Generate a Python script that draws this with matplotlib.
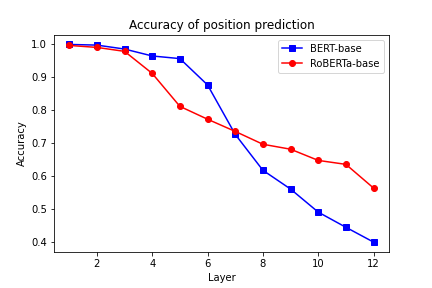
import matplotlib
matplotlib.use("Agg")
import matplotlib.pyplot as plt

layers = [1, 2, 3, 4, 5, 6, 7, 8, 9, 10, 11, 12]
bert_acc = [1.0, 0.998, 0.986, 0.965, 0.957, 0.877, 0.727, 0.618, 0.561, 0.491, 0.445, 0.400]
roberta_acc = [0.997, 0.991, 0.979, 0.912, 0.812, 0.773, 0.736, 0.697, 0.682, 0.648, 0.636, 0.564]

fig, ax = plt.subplots(figsize=(6, 4), dpi=72)
fig.subplots_adjust(bottom=0.125)
ax.plot(layers, bert_acc, color="blue", marker="s", label="BERT-base")
ax.plot(layers, roberta_acc, color="red", marker="o", label="RoBERTa-base")
ax.set_xlabel("Layer")
ax.set_ylabel("Accuracy")
ax.set_title("Accuracy of position prediction")
ax.legend()
fig.savefig("out.png")
plt.close(fig)
